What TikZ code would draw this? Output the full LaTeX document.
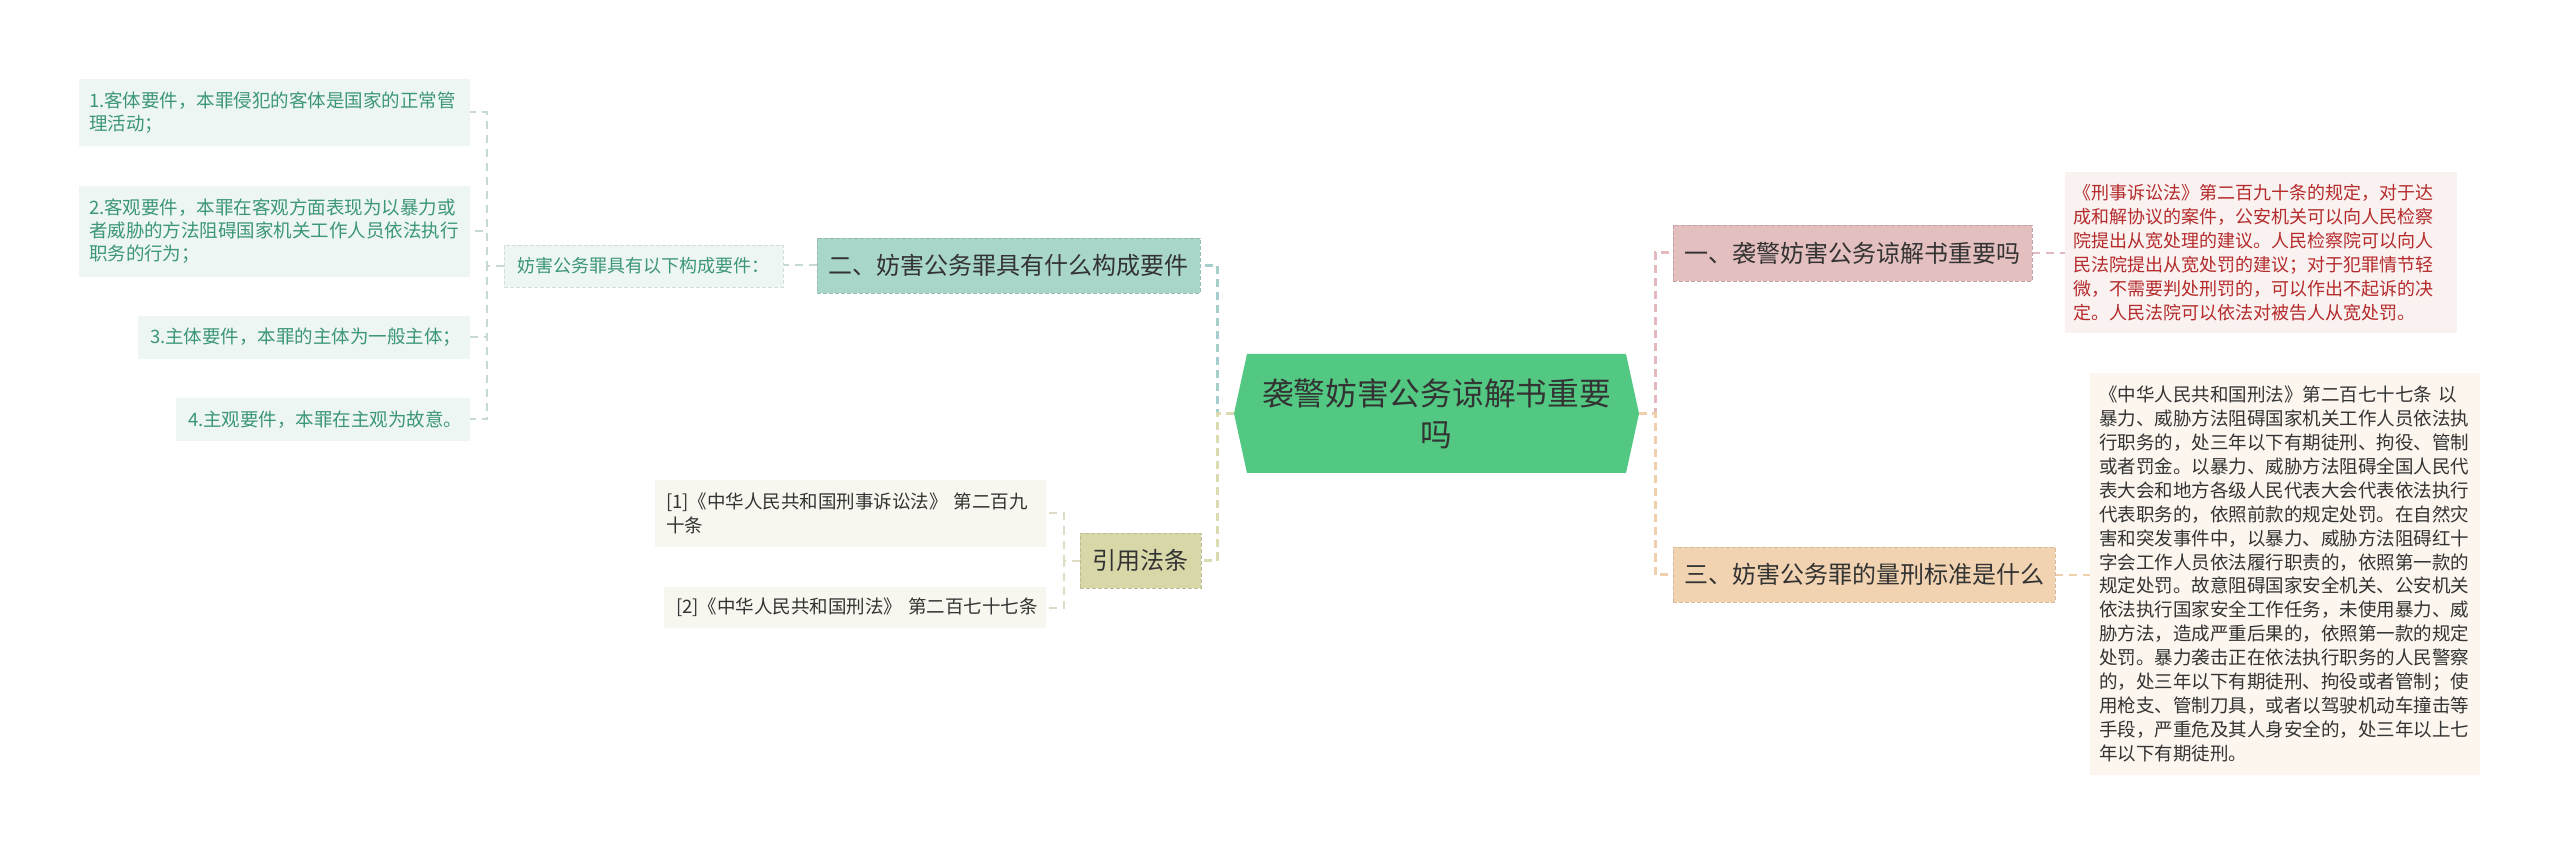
\documentclass[tikz,border=0pt]{standalone}
\usepackage{fontspec}
\setmainfont{Noto Sans CJK SC}
\definecolor{cgreen}{HTML}{52C882}
\definecolor{cpink}{HTML}{E3BFBF}
\definecolor{cpeach}{HTML}{F2D3B1}
\definecolor{cteal}{HTML}{A9D6CB}
\definecolor{ckhaki}{HTML}{D7D7A8}
\definecolor{lteal}{HTML}{EEF6F3}
\definecolor{lred}{HTML}{FAF1F1}
\definecolor{lpeach}{HTML}{FCF6EF}
\definecolor{lkhaki}{HTML}{F7F6EF}
\definecolor{tteal}{HTML}{3C9678}
\definecolor{tred}{HTML}{B52B2B}
\definecolor{tdark}{HTML}{333333}
\definecolor{epink}{HTML}{E3B9BE}
\definecolor{epeach}{HTML}{F0CFAD}
\definecolor{eteal}{HTML}{A6CFCB}
\definecolor{ekhaki}{HTML}{DCDAB0}
\definecolor{eleaf}{HTML}{C8DAD5}
\definecolor{ekleaf}{HTML}{DEDDC4}
\pgfdeclarelayer{bg}
\pgfsetlayers{bg,main}
\tikzset{
  every node/.style={inner sep=0pt, outer sep=0pt},
  centralnode/.style={minimum width=202.5pt, minimum height=59.5pt, align=center,
     text=tdark, font=\fontsize{15.85}{20.5}\selectfont},
  branchnode/.style={draw, dashed, dash pattern=on 2pt off 1pt, line width=0.4pt,
     text=tdark, align=center, font=\fontsize{12}{14}\selectfont},
  leafnode/.style={align=left, inner xsep=5pt, font=\fontsize{9.25}{11.5}\selectfont},
  branchedge/.style={line width=1.5pt, dash pattern=on 4pt off 2.5pt},
  leafedge/.style={line width=1pt, dash pattern=on 4pt off 3pt},
}
\begin{document}
\begin{tikzpicture}[x=0.5pt, y=-0.5pt]
\useasboundingbox (0,0) rectangle (2560,855);
\begin{pgfonlayer}{bg}
\fill[white] (0,0) rectangle (2560,855);
\end{pgfonlayer}

% central
\node[centralnode] (c) at (1436.5,413.5) {袭警妨害公务谅解书重要\\吗};

% branches
\node[branchnode, fill=cpink, draw=cpink!85!black, minimum width=179.5pt, minimum height=28pt] (b1) at (1852.5,253) {一、袭警妨害公务谅解书重要吗};
\node[branchnode, fill=cpeach, draw=cpeach!88!black, minimum width=191pt, minimum height=27.5pt] (b3) at (1864,574.5) {三、妨害公务罪的量刑标准是什么};
\node[branchnode, fill=cteal, draw=cteal!88!black, minimum width=191.5pt, minimum height=27.5pt] (b2) at (1008.5,265.5) {二、妨害公务罪具有什么构成要件};
\node[branchnode, fill=ckhaki, draw=ckhaki!88!black, minimum width=60.5pt, minimum height=27.5pt] (b4) at (1140.5,560.5) {引用法条};

% sub node of b2
\node[leafnode, fill=lteal, draw=lteal!90!black, dashed, dash pattern=on 2pt off 1pt, line width=0.3pt, text=tteal, font=\fontsize{9}{11}\selectfont, minimum width=139.5pt, minimum height=21pt, align=center] (s) at (643.5,266) {妨害公务罪具有以下构成要件：};

% teal leaves
\node[leafnode, fill=lteal, text=tteal, text width=185.5pt, minimum height=33.5pt] (l1) at (274.5,112.5) {1.客体要件，本罪侵犯的客体是国家的正常管\\理活动；};
\node[leafnode, fill=lteal, text=tteal, text width=185.5pt, minimum height=45.5pt] (l2) at (274.5,231.5) {2.客观要件，本罪在客观方面表现为以暴力或\\者威胁的方法阻碍国家机关工作人员依法执行\\职务的行为；};
\node[leafnode, fill=lteal, text=tteal, inner xsep=6pt, text width=154pt, minimum height=21.5pt] (l3) at (304,337.5) {3.主体要件，本罪的主体为一般主体；};
\node[leafnode, fill=lteal, text=tteal, inner xsep=6pt, text width=135pt, minimum height=21.5pt] (l4) at (323,419.5) {4.主观要件，本罪在主观为故意。};

% right leaves
\node[leafnode, fill=lred, text=tred, inner xsep=4pt, text width=188pt, minimum height=80.5pt, font=\fontsize{9}{12}\selectfont] (r1) at (2261,252.5) {《刑事诉讼法》第二百九十条的规定，对于达\\成和解协议的案件，公安机关可以向人民检察\\院提出从宽处理的建议。人民检察院可以向人\\民法院提出从宽处罚的建议；对于犯罪情节轻\\微，不需要判处刑罚的，可以作出不起诉的决\\定。人民法院可以依法对被告人从宽处罚。};
\node[leafnode, fill=lpeach, text=tdark, inner xsep=4.5pt, text width=186pt, minimum height=201pt, font=\fontsize{9.25}{11.95}\selectfont] (r2) at (2285,574) {《中华人民共和国刑法》第二百七十七条~以\\暴力、威胁方法阻碍国家机关工作人员依法执\\行职务的，处三年以下有期徒刑、拘役、管制\\或者罚金。以暴力、威胁方法阻碍全国人民代\\表大会和地方各级人民代表大会代表依法执行\\代表职务的，依照前款的规定处罚。在自然灾\\害和突发事件中，以暴力、威胁方法阻碍红十\\字会工作人员依法履行职责的，依照第一款的\\规定处罚。故意阻碍国家安全机关、公安机关\\依法执行国家安全工作任务，未使用暴力、威\\胁方法，造成严重后果的，依照第一款的规定\\处罚。暴力袭击正在依法执行职务的人民警察\\的，处三年以下有期徒刑、拘役或者管制；使\\用枪支、管制刀具，或者以驾驶机动车撞击等\\手段，严重危及其人身安全的，处三年以上七\\年以下有期徒刑。};

% citation leaves
\node[leafnode, fill=lkhaki, text=tdark, inner xsep=5.5pt, text width=184.5pt, minimum height=33.5pt, font=\fontsize{9.25}{11.67}\selectfont] (k1) at (850.5,513.5) {[1]《中华人民共和国刑事诉讼法》~第二百九\\十条};
\node[leafnode, fill=lkhaki, text=tdark, inner xsep=6pt, text width=179pt, minimum height=20.5pt, font=\fontsize{9.25}{11.67}\selectfont] (k2) at (855,607.5) {[2]《中华人民共和国刑法》~第二百七十七条};

\begin{pgfonlayer}{bg}
  % hexagon of central node
  \fill[cgreen] (c.west) -- ([xshift=6.5pt]c.north west) -- ([xshift=-6.5pt]c.north east)
     -- (c.east) -- ([xshift=-6.5pt]c.south east) -- ([xshift=6.5pt]c.south west) -- cycle;
  % central to branches
  \draw[branchedge, epink] (c.east) -- ++(16,0) |- (b1.west);
  \draw[branchedge, epeach] (c.east) -- ++(16,0) |- (b3.west);
  \draw[branchedge, eteal] (c.west) -- ++(-17,0) |- (b2.east);
  \draw[branchedge, ekhaki] (c.west) -- ++(-17,0) |- (b4.east);
  % branch to leaves
  \draw[leafedge, epink] (b1.east) -- (r1.west |- b1.east);
  \draw[leafedge, epeach] (b3.east) -- (r2.west |- b3.east);
  \draw[leafedge, eleaf] (b2.west) -- (s.east |- b2.west);
  \draw[leafedge, eleaf] (s.west) -- ++(-17,0) |- (l1.east);
  \draw[leafedge, eleaf] (s.west) -- ++(-17,0) |- (l2.east);
  \draw[leafedge, eleaf] (s.west) -- ++(-17,0) |- (l3.east);
  \draw[leafedge, eleaf] (s.west) -- ++(-17,0) |- (l4.east);
  \draw[leafedge, ekleaf] (b4.west) -- ++(-16,0) |- (k1.east);
  \draw[leafedge, ekleaf] (b4.west) -- ++(-16,0) |- (k2.east);
\end{pgfonlayer}
\end{tikzpicture}
\end{document}
